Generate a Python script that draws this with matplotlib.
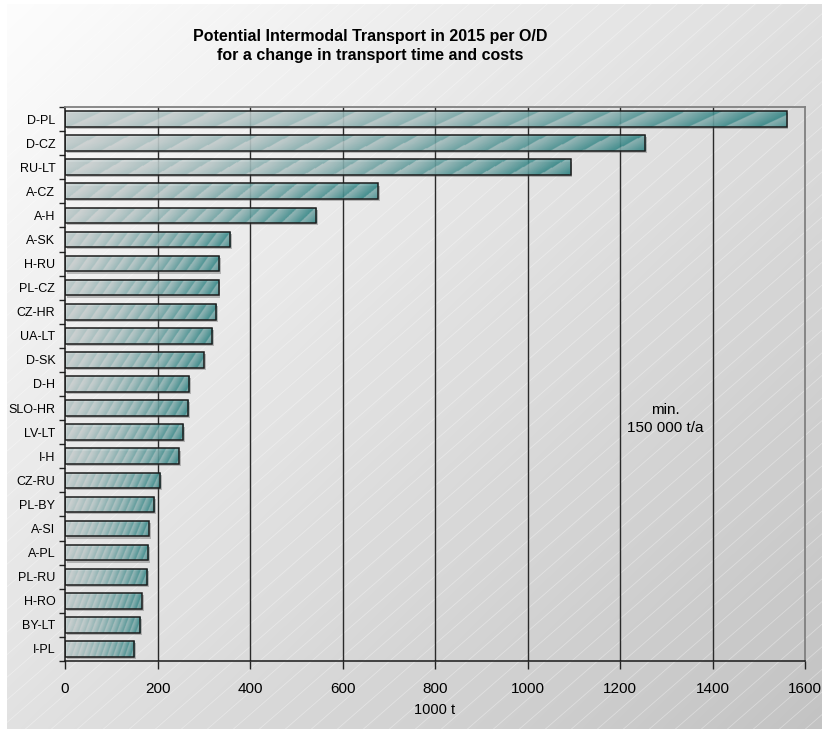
import numpy as np
import matplotlib
matplotlib.use("Agg")
import matplotlib.pyplot as plt
from matplotlib.patches import Rectangle
from matplotlib.lines import Line2D

plt.rcParams['font.family'] = ['Liberation Sans', 'DejaVu Sans']

# Origin/destination pairs and potential intermodal volume (1000 t)
routes = ["D-PL", "D-CZ", "RU-LT", "A-CZ", "A-H", "A-SK", "H-RU", "PL-CZ",
          "CZ-HR", "UA-LT", "D-SK", "D-H", "SLO-HR", "LV-LT", "I-H", "CZ-RU",
          "PL-BY", "A-SI", "A-PL", "PL-RU", "H-RO", "BY-LT", "I-PL"]
volumes = [1560, 1255, 1093, 676, 543, 357, 334, 332,
           327, 318, 300, 269, 267, 256, 246, 206,
           193, 181, 180, 178, 166, 163, 150]
x_ticks = [0, 200, 400, 600, 800, 1000, 1200, 1400, 1600]

title = "Potential Intermodal Transport in 2015 per O/D\nfor a change in transport time and costs"
x_label = "1000 t"
note = "min.\n150 000 t/a"

W, H = 822, 732
fig = plt.figure(figsize=(W / 100, H / 100), dpi=100)
fig.patch.set_facecolor("white")

# ---- chart-area background: diagonal grey gradient with faint hatch lines
bg = fig.add_axes([0, 0, 1, 1], zorder=-10)
bg.set_xlim(0, W)
bg.set_ylim(H, 0)
bg.axis("off")
px0, py0, px1, py1 = 7, 4, W, 729
gx = np.linspace(0, 1, 300)
gy = np.linspace(0, 1, 300)
GX, GY = np.meshgrid(gx, gy)
s = (GX * 1.05 + GY * 0.95) / 2
lev = 0.992 - (0.992 - 0.765) * s
grad = np.dstack([lev, lev, lev])
bg.imshow(grad, extent=(px0, px1, py1, py0), aspect="auto", interpolation="bilinear")
clip = Rectangle((px0, py0), px1 - px0, py1 - py0, transform=bg.transData)
for c in np.arange(-H, W + 40, 26):
    ln = Line2D([c, c + H * 1.15], [H, 0], color="white", lw=0.6, alpha=0.35)
    ln.set_clip_path(clip)
    bg.add_line(ln)

# ---- main bar chart
ax = fig.add_axes([65 / W, 71 / H, 740 / W, 554 / H])
ax.set_facecolor("none")
n = len(routes)

for xv in x_ticks[1:-1]:
    ax.axvline(xv, color="#2a2a2a", lw=1.0, zorder=1)

light = np.array([0.82, 0.84, 0.84])
teal = np.array([0.12, 0.50, 0.50])
bh = 0.65
ny, nx = 24, 500
uu, vv = np.meshgrid(np.linspace(0, 1, nx), np.linspace(0, 1, ny))

for i, v in enumerate(volumes):
    y0 = i - bh / 2
    # drop shadow
    ax.add_patch(Rectangle((4, y0 + 0.09), v, bh, facecolor="#555555",
                           edgecolor="none", alpha=0.35, zorder=2))
    nstreak = 11 + 9 * v / 1600
    phase = (uu * nstreak + vv * 0.9) % 1.0
    amt = 0.06 + 0.62 * uu ** 1.4 + 0.34 * (phase - 0.5) * (0.45 + uu)
    amt = amt + 0.06 * np.abs(vv - 0.45)
    amt = np.clip(amt, 0, 1)[..., None]
    img = light * (1 - amt) + teal * amt
    rect = Rectangle((0, y0), v, bh, facecolor="none", edgecolor="none",
                     transform=ax.transData)
    ax.add_patch(rect)
    im = ax.imshow(img, extent=(0, v, y0 + bh, y0), aspect="auto",
                   interpolation="bilinear", zorder=3, alpha=0.85)
    im.set_clip_path(rect)
    ax.add_patch(Rectangle((0, y0), v, bh, facecolor="none",
                           edgecolor="#1c1c1c", lw=1.1, zorder=4))

ax.set_aspect("auto")
ax.set_xlim(0, 1600)
ax.set_ylim(n - 0.5, -0.5)

ax.set_yticks(range(n))
ax.set_yticklabels(routes, fontsize=9)
ax.set_yticks(np.arange(-0.5, n, 1.0), minor=True)
ax.tick_params(axis="y", which="major", length=0, pad=7)
ax.tick_params(axis="y", which="minor", length=4, width=1, color="#222222", direction="out")
ax.set_xticks(x_ticks)
ax.set_xticklabels([str(t) for t in x_ticks], fontsize=11)
ax.tick_params(axis="x", length=6, width=1, color="#222222", pad=9)
ax.set_xlabel(x_label, fontsize=10.5, labelpad=5)

for side in ("left", "bottom"):
    ax.spines[side].set_color("#1a1a1a")
    ax.spines[side].set_linewidth(1.1)
for side in ("top", "right"):
    ax.spines[side].set_color("#808080")
    ax.spines[side].set_linewidth(1.3)
for sp in ax.spines.values():
    sp.set_zorder(6)

ax.text(1297, 12.45, note, ha="center", va="center", fontsize=11,
        linespacing=1.35, zorder=5)

fig.text(370 / W, 1 - 46 / H, title, ha="center", va="center",
         fontsize=11.5, fontweight="bold", linespacing=1.35)

fig.savefig("out.png", dpi=100)
